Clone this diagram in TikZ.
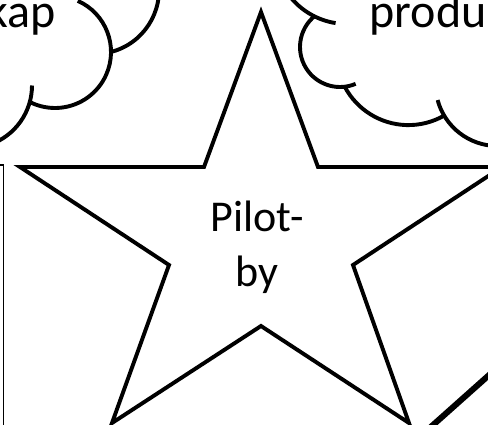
\documentclass[tikz,border=0pt]{standalone}
\usepackage{fontspec}
\setmainfont{Carlito}
\begin{document}
\begin{tikzpicture}[x=1pt,y=-1pt,
  starline/.style={draw=black,line width=3.9pt,line join=miter},
  cloudline/.style={draw=black,line width=3.9pt},
  bigtext/.style={font=\fontsize{44}{55}\selectfont,inner sep=0pt},
  cloudtext/.style={font=\fontsize{48}{58}\selectfont,inner sep=0pt}]
\useasboundingbox (0,0) rectangle (488,425);
\clip (0,0) rectangle (488,425);
% left box edge
\draw[black,line width=1.2pt,fill=white] (-10,165) rectangle (3.5,440);
% star
\coordinate (sT) at (261,12);
\coordinate (sIUR) at (318,167);
\coordinate (sR) at (502,167);
\coordinate (sILR) at (353,265);
\coordinate (sBR) at (409,423);
\coordinate (sIB) at (261,326);
\coordinate (sBL) at (112,423);
\coordinate (sILL) at (169,265);
\coordinate (sL) at (20,167);
\coordinate (sIUL) at (204,167);
\draw[starline] (sT) -- (sIUR) -- (sR) -- (sILR) -- (sBR) -- (sIB) -- (sBL) -- (sILL) -- (sL) -- (sIUL) -- cycle;
\node[bigtext,align=center,anchor=base] (pilot) at (257,286.7) {Pilot-\\by};
% left cloud
\draw[cloudline] (55,52) ++(-66:56) arc[start angle=-66,end angle=118,radius=56];
\draw[cloudline] (-30.5,85.5) ++(0:62.5) arc[start angle=0,end angle=70,radius=62.5];
\draw[cloudline] (95,-10) ++(-10:64) arc[start angle=-10,end angle=76,radius=64];
\node[cloudtext,anchor=base east] (kap) at (56,28) {kap};
% right cloud
\draw[cloudline] (347,-49) ++(142:73) arc[start angle=142,end angle=99,radius=73];
\draw[cloudline] (340,47) ++(232:40) arc[start angle=232,end angle=67,radius=40];
\draw[cloudline] (408.4,53.1) ++(152:72) arc[start angle=152,end angle=59,radius=72];
\draw[cloudline] (497.5,84) ++(165:62) arc[start angle=165,end angle=90,radius=62];
\node[cloudtext,anchor=base west] (produ) at (369.5,28) {produ};
% thick diagonal line bottom right
\coordinate (dA) at (420,436.6);
\coordinate (dB) at (500,365.3);
\draw[black,line width=6pt] (dA) -- (dB);
\end{tikzpicture}
\end{document}
